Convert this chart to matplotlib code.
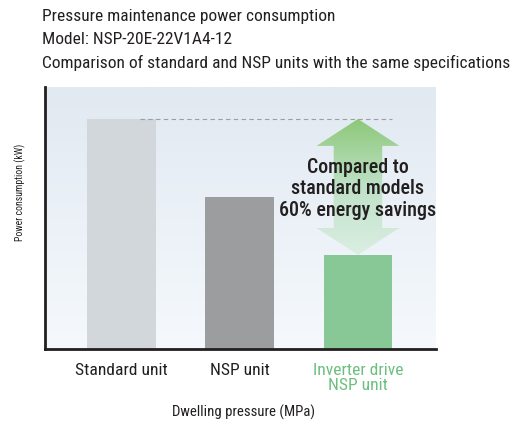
import numpy as np
import matplotlib
matplotlib.use("Agg")
import matplotlib.pyplot as plt
from matplotlib.patches import Polygon
from matplotlib.colors import LinearSegmentedColormap

plt.rcParams['font.family'] = ['Roboto Condensed', 'Liberation Sans', 'DejaVu Sans']

categories = ["Standard unit", "NSP unit", "Inverter drive\nNSP unit"]
values = [100, 66, 41]
bar_colors = ["#d1d7da", "#9b9d9f", "#88c796"]
label_colors = ["#231f20", "#231f20", "#6cc07f"]
title_lines = ["Pressure maintenance power consumption",
               "Model: NSP-20E-22V1A4-12",
               "Comparison of standard and NSP units with the same specifications"]
annotation = "Compared to\nstandard models\n60% energy savings"
ylabel = "Power consumption (kW)"
xlabel = "Dwelling pressure (MPa)"

W, H = 515, 424
fig = plt.figure(figsize=(W / 100, H / 100), dpi=100)
renderer = fig.canvas.get_renderer()


def fit(t, target_px):
    """Scale a text's font size so its longest extent matches target_px."""
    for _ in range(3):
        bb = t.get_window_extent(renderer=renderer)
        ext = max(bb.width, bb.height) if t.get_rotation() else bb.width
        t.set_fontsize(t.get_fontsize() * target_px / ext)


ax = fig.add_axes([45 / W, (H - 349) / H, (436 - 45) / W, (349 - 87) / H])

x = np.arange(len(categories))
ax.set_xlim(-0.647, 2.66)
ax.set_ylim(0, 113.9)

bg = LinearSegmentedColormap.from_list("bg", ["#f5f9fd", "#e1e9f1"])
ax.imshow(np.linspace(0, 1, 256).reshape(-1, 1), cmap=bg, aspect="auto",
          extent=[-0.647, 2.66, 0, 113.9], origin="lower", zorder=0)

ax.bar(x, values, width=0.583, color=bar_colors, zorder=2)

ax.plot([0.16, x[2] + 0.29], [values[0], values[0]], ls=(0, (4, 3)),
        color="#9a9fa3", lw=0.8, zorder=3)

cx = x[2]
top, bot = values[0], values[2]
hw, sw = 0.35, 0.205
hb_top = 88.3
hb_bot = 52.6
verts = [(cx, top), (cx + hw, hb_top), (cx + sw, hb_top), (cx + sw, hb_bot),
         (cx + hw, hb_bot), (cx, bot), (cx - hw, hb_bot), (cx - sw, hb_bot),
         (cx - sw, hb_top), (cx - hw, hb_top)]
poly = Polygon(verts, closed=True, facecolor="none", edgecolor="none", zorder=3)
ax.add_patch(poly)
ar = LinearSegmentedColormap.from_list("ar", ["#dbeee2", "#bfe2c8", "#8dc879"])
im = ax.imshow(np.linspace(0, 1, 256).reshape(-1, 1), cmap=ar, aspect="auto",
               extent=[cx - hw, cx + hw, bot, top], origin="lower", zorder=3)
im.set_clip_path(poly)

ann = ax.text(cx, 69.6, annotation, ha="center", va="center", fontsize=14,
              fontweight="medium", color="#231f20", linespacing=1.17, zorder=4)
fit(ann, 157)

for s in ["top", "right"]:
    ax.spines[s].set_visible(False)
for s in ["left", "bottom"]:
    ax.spines[s].set_color("#231f20")
    ax.spines[s].set_linewidth(2)
ax.set_yticks([])
ax.set_xticks(x)
ax.set_xticklabels(categories, fontsize=12, linespacing=1.05)
for t, c in zip(ax.get_xticklabels(), label_colors):
    t.set_color(c)
    t.set_verticalalignment("top")
ax.tick_params(axis="x", length=0, pad=10)
fig.canvas.draw()
t0 = ax.get_xticklabels()[0]
bb = t0.get_window_extent(renderer=renderer)
fs = 12 * 92 / bb.width
for t in ax.get_xticklabels():
    t.set_fontsize(fs)

yl = fig.text(20 / W, 1 - 192 / H, ylabel, rotation=90, ha="center", va="center",
              fontsize=8.5, color="#231f20")
fit(yl, 97)
xl = fig.text(244 / W, 1 - 412 / H, xlabel, ha="center", va="center",
              fontsize=10, color="#231f20")
fit(xl, 143)
tts = []
for i, line in enumerate(title_lines):
    tts.append(fig.text(42 / W, 1 - (17 + 23 * i) / H, line, ha="left", va="center",
                        fontsize=10.5, color="#231f20"))
fit(tts[2], 466)
for t in tts[:2]:
    t.set_fontsize(tts[2].get_fontsize())

fig.savefig("out.png", dpi=100)
